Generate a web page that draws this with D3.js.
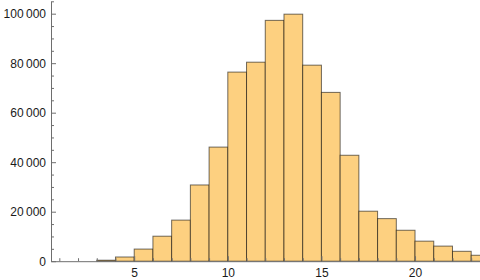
<!DOCTYPE html>
<html>
<head>
<meta charset="utf-8">
<script src="https://cdn.jsdelivr.net/npm/d3@7"></script>
<style>
  html, body { margin: 0; padding: 0; background: #fff; }
  svg { display: block; }
  text { font-family: "Liberation Sans", Arial, sans-serif; }
</style>
</head>
<body>
<svg id="chart" width="480" height="280"></svg>
<script>
// bin left edges (width 1) and counts
const binStarts = [3, 4, 5, 6, 7, 8, 9, 10, 11, 12, 13, 14, 15, 16, 17, 18, 19, 20, 21, 22, 23];
const counts = [400, 1700, 4900, 10100, 16600, 30800, 46100, 76400, 80400, 97300, 99800, 79200, 68200, 42800, 20200, 17200, 12500, 8100, 6100, 4000, 2400];
const xMajorTicks = [5, 10, 15, 20];
const xMinorTicks = [1, 2, 3, 4, 6, 7, 8, 9, 11, 12, 13, 14, 16, 17, 18, 19, 21, 22, 23];
const yMajorTicks = [0, 20000, 40000, 60000, 80000, 100000];
const yMinorTicks = [5000, 10000, 15000, 25000, 30000, 35000, 45000, 50000, 55000, 65000, 70000, 75000, 85000, 90000, 95000, 105000];

const svg = d3.select("#chart");
const x = d3.scaleLinear().domain([0.556, 23.47]).range([51, 480]);
const y = d3.scaleLinear().domain([0, 105000]).range([261.2, 1.3]);

const loc = d3.formatLocale({decimal: ".", thousands: "\u2009", grouping: [3], currency: ["", ""]});
const fmt = loc.format(",");

svg.append("defs").append("clipPath").attr("id", "clip")
  .append("rect").attr("x", 51).attr("y", 0).attr("width", 429).attr("height", 262);

// bars
svg.append("g").attr("clip-path", "url(#clip)")
  .selectAll("rect").data(binStarts).join("rect")
  .attr("x", (d) => x(d))
  .attr("y", (d, i) => y(counts[i]))
  .attr("width", (d) => x(d + 1) - x(d))
  .attr("height", (d, i) => y(0) - y(counts[i]))
  .attr("fill", "#fdd080")
  .attr("stroke", "rgba(0,0,0,0.56)")
  .attr("stroke-width", 1);

const axisColor = "#6e6e6e";

function styleAxis(g) {
  g.selectAll("path").attr("stroke", axisColor);
  g.selectAll("line").attr("stroke", axisColor);
  g.selectAll("text").attr("fill", "#1a1a1a").attr("font-size", 12)
    .attr("font-family", "'Liberation Sans', Arial, sans-serif");
}

// x axis
const gx = svg.append("g").attr("transform", `translate(0,${y(0)})`);
gx.call(d3.axisBottom(x).tickValues(xMajorTicks).tickSizeInner(-5).tickSizeOuter(0).tickPadding(7).tickFormat(d3.format("d")));
styleAxis(gx);
const gxm = svg.append("g").attr("transform", `translate(0,${y(0)})`);
gxm.call(d3.axisBottom(x).tickValues(xMinorTicks).tickSizeInner(-3).tickSizeOuter(0).tickFormat(""));
gxm.select("path").remove();
styleAxis(gxm);

// y axis
const gy = svg.append("g").attr("transform", `translate(${x.range()[0]},0)`);
gy.call(d3.axisLeft(y).tickValues(yMajorTicks).tickSizeInner(-5).tickSizeOuter(0).tickPadding(5).tickFormat(fmt));
styleAxis(gy);
const gym = svg.append("g").attr("transform", `translate(${x.range()[0]},0)`);
gym.call(d3.axisLeft(y).tickValues(yMinorTicks).tickSizeInner(-3).tickSizeOuter(0).tickFormat(""));
gym.select("path").remove();
styleAxis(gym);
</script>
</body>
</html>
